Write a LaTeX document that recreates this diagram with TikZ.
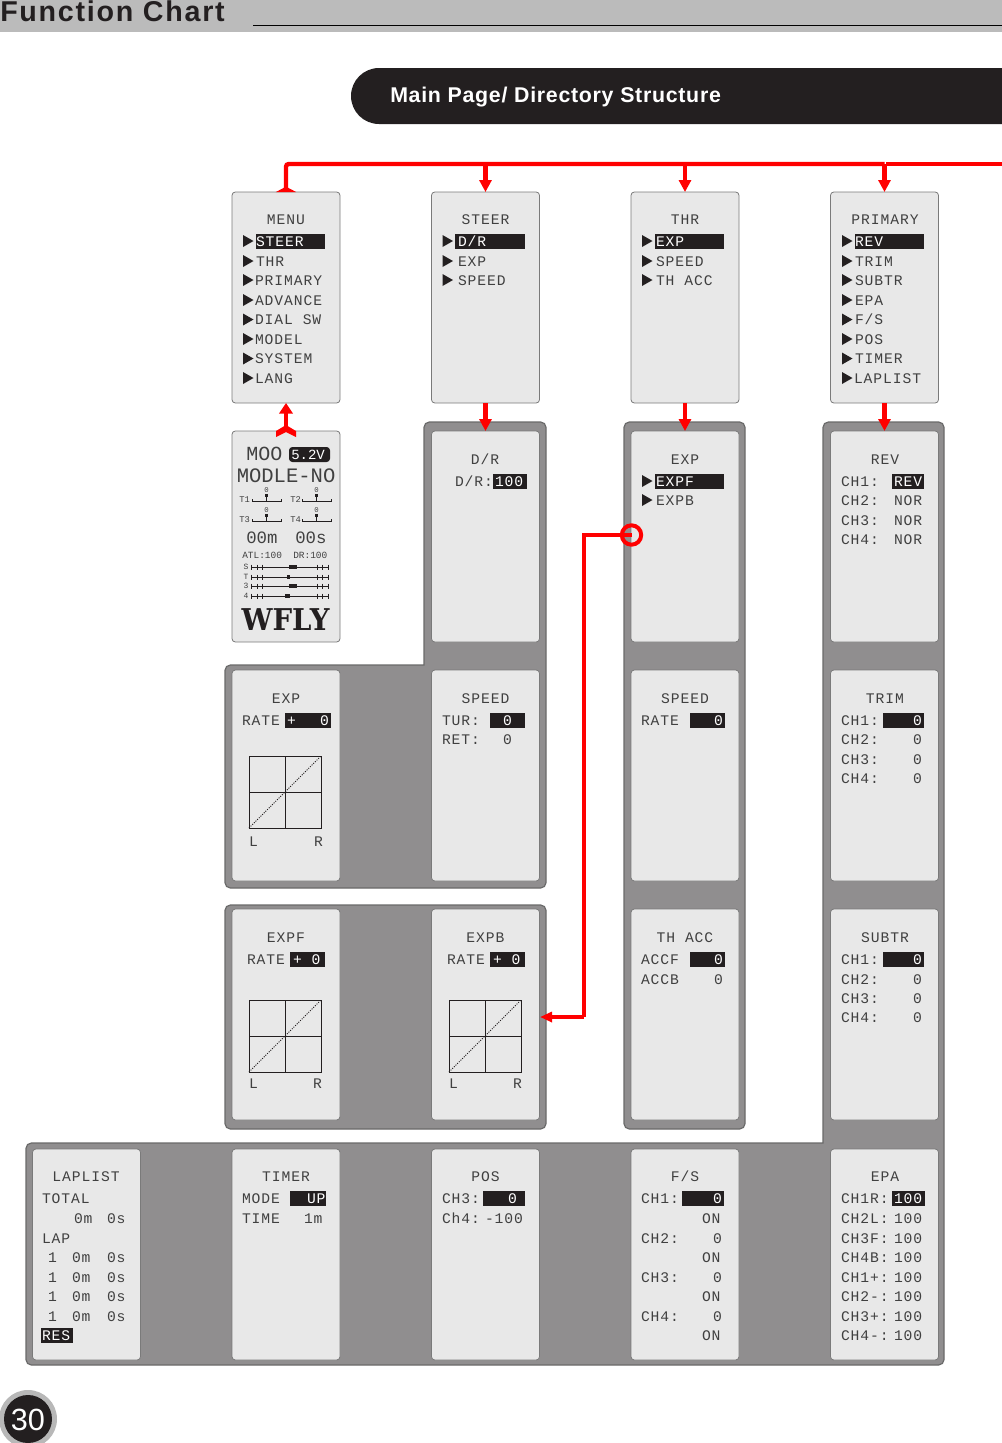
\documentclass[tikz,border=0pt]{standalone}
\usepackage{fontspec}
\usetikzlibrary{arrows.meta}
\setmainfont{Liberation Sans}
\newfontfamily\lcdfont{Liberation Mono}[LetterSpace=6.4]
\newfontfamily\lcdplain{Liberation Mono}
\newfontfamily\logofont{DejaVu Serif}[BoldFont={* Bold}]
\definecolor{grp}{HTML}{908E8F}
\definecolor{grpedge}{HTML}{6A6A6A}
\definecolor{pnl}{HTML}{E8E8E8}
\definecolor{pnledge}{HTML}{7A7A7A}
\definecolor{ink}{HTML}{231F20}
\definecolor{lcdink}{HTML}{404040}
\definecolor{redline}{HTML}{FF0000}
\definecolor{hdrgray}{HTML}{BBBBBB}
\newcount\lcdno
\tikzset{
  x=.75pt,y=-.75pt,
  panel/.style={draw=pnledge,fill=pnl,line width=.6pt,rounded corners=2.5pt,minimum width=81pt,minimum height=158.25pt,inner sep=0pt,outer sep=0pt,anchor=north west},
  group/.style={fill=grp,draw=grpedge,line width=.9pt,rounded corners=4pt},
  txt/.style={font=\lcdfont\fontsize{11}{11}\selectfont,text=lcdink,inner sep=0pt,outer sep=0pt},
  rline/.style={draw=redline,line width=3.3pt},
  rarrow/.style={rline,-{Triangle[width=9pt,length=9pt]}},
  thinline/.style={draw=redline,line width=3pt},
  thinarrow/.style={thinline,-{Triangle[width=7.5pt,length=9pt]}},
  graphline/.style={draw=ink,line width=.75pt},
}
\newcommand{\lcdl}[4][]{\global\advance\lcdno by 1 \node[txt,anchor=base west,#1] (t\the\lcdno) at (#2,#3+5) {#4};}
\newcommand{\lcdc}[3]{\global\advance\lcdno by 1 \node[txt,anchor=base] (t\the\lcdno) at (#1,#2+5) {#3};}
\newcommand{\lcdbar}[3]{\fill[ink] (#1,#3-7.5) rectangle (#2,#3+7.5);}
\newcommand{\lcdw}[3]{\lcdl[text=white]{#1}{#2}{#3}}
\newcommand{\lcdtri}[2]{\fill[ink] (#1,#2-6) -- (#1+10.5,#2) -- (#1,#2+6) -- cycle;}
\newcommand{\graphbox}[2]{%
  \draw[graphline] (#1,#2) rectangle (#1+72,#2+72);
  \draw[graphline] (#1+36,#2) -- (#1+36,#2+72) (#1,#2+36) -- (#1+72,#2+36);
  \draw[graphline,densely dotted] (#1,#2+72) -- (#1+72,#2);
}
\begin{document}
\begin{tikzpicture}
\useasboundingbox (0,0) rectangle (1002,1443);
\fill[white] (0,0) rectangle (1002,1443);
% header
\fill[hdrgray] (0,0) rectangle (1002,32);
\draw[black,line width=.6pt] (253,25.5) -- (1002,25.5);
\node[inner sep=0pt,anchor=base west,text=ink,font=\bfseries\fontsize{21.5}{21.5}\selectfont] (hdr) at (0,21) {\addfontfeature{LetterSpace=6}Function Chart};
% banner
\fill[ink] (1002,68) -- (379,68) arc[start angle=270,end angle=90,radius=28] -- (1002,124) -- cycle;
\node[inner sep=0pt,anchor=base west,text=white,font=\bfseries\fontsize{16}{16}\selectfont] (banner) at (390,102) {\addfontfeature{LetterSpace=3.4}Main Page/ Directory Structure};
% groups
\draw[group] (424,422) -- (546,422) -- (546,888) -- (225,888) -- (225,665) [sharp corners] -- (424,665) [rounded corners=4pt] -- cycle;
\draw[group] (225,905) rectangle (546,1129);
\draw[group] (624,422) rectangle (745,1129);
\draw[group] (823,422) -- (944,422) -- (944,1365) -- (26,1365) -- (26,1143) [sharp corners] -- (823,1143) [rounded corners=4pt] -- cycle;
% panels
\foreach \nm/\px/\py in {menu/232/192,steer/431.5/192,thr/631/192,primary/830.5/192,
  main/232/431,dr/431.5/431,exp/631/431,rev/830.5/431,
  rate/232/670,speedA/431.5/670,speedB/631/670,trim/830.5/670,
  expf/232/909,expb/431.5/909,thacc/631/909,subtr/830.5/909,
  laplist/32.5/1149,timer/232/1149,pos/431.5/1149,fs/631/1149,epa/830.5/1149}
  {\node[panel] (\nm) at (\px,\py) {};}
% MENU
\lcdc{286}{219}{MENU}
\foreach \y in {241,261,280,300,319.5,339,358.5,378} {\lcdtri{243}{\y}}
\lcdbar{256}{325}{241.5}
\lcdw{256}{241}{STEER}\lcdl{256}{261}{THR}\lcdl{255}{280}{PRIMARY}\lcdl{255}{300}{ADVANCE}\lcdl{255}{319.5}{DIAL SW}\lcdl{255}{339}{MODEL}\lcdl{255}{358.5}{SYSTEM}\lcdl{255}{378}{LANG}
% STEER
\lcdc{485.5}{219}{STEER}
\foreach \y in {241,261,280} {\lcdtri{442.5}{\y}}
\lcdbar{455}{525}{241.5}
\lcdw{458}{241}{D/R}\lcdl{458}{261}{EXP}\lcdl{458}{280}{SPEED}
% THR
\lcdc{685}{219}{THR}
\foreach \y in {241,261,280} {\lcdtri{642}{\y}}
\lcdbar{655}{724}{241.5}
\lcdw{656}{241}{EXP}\lcdl{656}{261}{SPEED}\lcdl{656}{280}{TH ACC}
% PRIMARY
\lcdc{885}{219}{PRIMARY}
\foreach \y in {241,261,280,300,319.5,339,358.5,378} {\lcdtri{842}{\y}}
\lcdbar{855}{924}{241.5}
\lcdw{855}{241}{REV}\lcdl{855}{261}{TRIM}\lcdl{855}{280}{SUBTR}\lcdl{855}{300}{EPA}\lcdl{855}{319.5}{F/S}\lcdl{855}{339}{POS}\lcdl{855}{358.5}{TIMER}\lcdl{854}{378}{LAPLIST}
% main screen
\node[inner sep=0pt,anchor=base west,text=lcdink,font=\lcdplain\fontsize{15}{15}\selectfont] (moo) at (246,460) {MOO};
\fill[ink,rounded corners=2.5pt] (289,447) rectangle (330,462);
\node[inner sep=0pt,anchor=base west,text=white,font=\lcdplain\fontsize{10.5}{10.5}\selectfont] (volt) at (291,459) {5.2V};
\node[inner sep=0pt,anchor=base west,text=lcdink,font=\lcdplain\fontsize{15.4}{15.4}\selectfont] (modle) at (236.5,482) {MODLE-NO};
\tikzset{tiny/.style={inner sep=0pt,text=lcdink,font=\lcdplain\fontsize{6.6}{6.6}\selectfont},
  trimb/.style={draw=ink,line width=.7pt}}
\foreach \lab/\lx/\by/\tx in {T1/239/501/252,T2/290/501/302,T3/239/521/252,T4/290/521/302}{
  \node[tiny,anchor=west] (lab\lab) at (\lx,\by-1) {\lab};
  \draw[trimb] (\tx,\by-2) -- (\tx,\by) -- (\tx+29,\by) -- (\tx+29,\by-2);
  \draw[trimb] (\tx+14.5,\by) -- (\tx+14.5,\by-5);
  \fill[ink] (\tx+13,\by-7) rectangle (\tx+16,\by-4);
  \node[tiny,font=\lcdplain\fontsize{5.5}{5.5}\selectfont] (val\lab) at (\tx+14.5,\by-11) {0};
}
\node[inner sep=0pt,anchor=base west,text=lcdink,font=\lcdplain\fontsize{13}{13}\selectfont] (mins) at (246,543) {00m};
\node[inner sep=0pt,anchor=base west,text=lcdink,font=\lcdplain\fontsize{13}{13}\selectfont] (secs) at (295,543) {00s};
\node[inner sep=0pt,anchor=base west,text=lcdink,font=\lcdplain\fontsize{7.1}{7.1}\selectfont] (atl) at (242,558.5) {ATL:100};
\node[inner sep=0pt,anchor=base west,text=lcdink,font=\lcdplain\fontsize{7.1}{7.1}\selectfont] (drv) at (293,558.5) {DR:100};
\foreach \lab/\yy/\ka/\kb in {S/567/289/297,T/577/287/290,3/586/289/297,4/596/285/290}{
  \node[tiny,font=\lcdplain\fontsize{6}{6}\selectfont] (sl\lab) at (246,\yy) {\lab};
  \draw[trimb] (251,\yy) -- (328,\yy);
  \foreach \k in {251,257,262,317,322,328} {\draw[trimb] (\k,\yy-2.5) -- (\k,\yy+2.5);}
  \fill[ink] (\ka,\yy-2) rectangle (\kb,\yy+1.5);
}
\node[inner sep=0pt,anchor=base,text=ink,font=\logofont\bfseries\fontsize{22.5}{22.5}\selectfont,xscale=.92] (wfly) at (285.5,630) {WFLY};
% D/R
\lcdc{485}{459}{D/R}\lcdl{455}{481}{D/R:}\lcdbar{493}{527}{481}\lcdw{495}{481}{100}
% EXP
\lcdc{685}{459}{EXP}\lcdtri{642}{481}\lcdtri{642}{500}\lcdbar{655}{724}{481}\lcdw{656}{481}{EXPF}\lcdl{656}{500}{EXPB}
% REV
\lcdc{885}{459}{REV}\lcdl{841}{481}{CH1:}\lcdbar{892}{924}{481}\lcdw{894}{481}{REV}
\lcdl{841}{500}{CH2:}\lcdl{894}{500}{NOR}\lcdl{841}{520}{CH3:}\lcdl{894}{520}{NOR}\lcdl{841}{539}{CH4:}\lcdl{894}{539}{NOR}
% EXP rate
\lcdc{286}{698}{EXP}\lcdl{242}{720}{RATE}\lcdbar{285}{331}{720}\lcdw{287}{720}{+}\lcdw{320}{720}{0}
\graphbox{249}{756}\lcdl{249}{841}{L}\lcdl{314}{841}{R}
% SPEED 1
\lcdc{485.5}{698}{SPEED}\lcdl{442}{720}{TUR:}\lcdbar{490}{525}{720}\lcdw{503}{720}{0}\lcdl{442}{739}{RET:}\lcdl{503}{739}{0}
% SPEED 2
\lcdc{685}{698}{SPEED}\lcdl{641}{720}{RATE}\lcdbar{690}{725}{720}\lcdw{714}{720}{0}
% TRIM
\lcdc{885}{698}{TRIM}\lcdl{841}{720}{CH1:}\lcdbar{883}{924}{720}\lcdw{913}{720}{0}
\lcdl{841}{739}{CH2:}\lcdl{913}{739}{0}\lcdl{841}{759}{CH3:}\lcdl{913}{759}{0}\lcdl{841}{778}{CH4:}\lcdl{913}{778}{0}
% EXPF
\lcdc{286}{937}{EXPF}\lcdl{247}{959}{RATE}\lcdbar{290}{325}{959}\lcdw{293}{959}{+ 0}
\graphbox{249}{1000}\lcdl{249}{1083}{L}\lcdl{313}{1083}{R}
% EXPB
\lcdc{485.5}{937}{EXPB}\lcdl{447}{959}{RATE}\lcdbar{490}{525}{959}\lcdw{493}{959}{+ 0}
\graphbox{449}{1000}\lcdl{449}{1083}{L}\lcdl{513}{1083}{R}
% TH ACC
\lcdc{685}{937}{TH ACC}\lcdl{641}{959}{ACCF}\lcdbar{690}{725}{959}\lcdw{714}{959}{0}\lcdl{641}{979}{ACCB}\lcdl{714}{979}{0}
% SUBTR
\lcdc{885}{937}{SUBTR}\lcdl{841}{959}{CH1:}\lcdbar{883}{924}{959}\lcdw{913}{959}{0}
\lcdl{841}{979}{CH2:}\lcdl{913}{979}{0}\lcdl{841}{998}{CH3:}\lcdl{913}{998}{0}\lcdl{841}{1017}{CH4:}\lcdl{913}{1017}{0}
% LAPLIST
\lcdc{86}{1176}{LAPLIST}\lcdl{42}{1198}{TOTAL}\lcdl{74}{1218}{0m}\lcdl{107}{1218}{0s}\lcdl{42}{1238}{LAP}
\foreach \y in {1257,1277,1296,1316} {\lcdl{48}{\y}{1}\lcdl{72}{\y}{0m}\lcdl{107}{\y}{0s}}
\lcdbar{41}{73}{1335.5}\lcdw{42}{1335}{RES}
% TIMER
\lcdc{286}{1176}{TIMER}\lcdl{242}{1198}{MODE}\lcdbar{290}{326}{1198}\lcdw{307}{1198}{UP}\lcdl{242}{1218}{TIME}\lcdl{304}{1218}{1m}
% POS
\lcdc{485.5}{1176}{POS}\lcdl{442}{1198}{CH3:}\lcdbar{483}{525}{1198}\lcdw{508}{1198}{0}\lcdl{442}{1218}{Ch4:}\lcdl{485}{1218}{-100}
% F/S
\lcdc{685}{1176}{F/S}\lcdl{641}{1198}{CH1:}\lcdbar{682}{724}{1198}\lcdw{713}{1198}{0}\lcdl{702}{1218}{ON}
\lcdl{641}{1238}{CH2:}\lcdl{713}{1238}{0}\lcdl{702}{1257}{ON}\lcdl{641}{1277}{CH3:}\lcdl{713}{1277}{0}\lcdl{702}{1296}{ON}\lcdl{641}{1316}{CH4:}\lcdl{713}{1316}{0}\lcdl{702}{1335}{ON}
% EPA
\lcdc{885}{1176}{EPA}\lcdl{841}{1198}{CH1R:}\lcdbar{892}{925}{1198}\lcdw{894}{1198}{100}
\foreach \lab/\y in {CH2L:/1218,CH3F:/1238,CH4B:/1257,CH1+:/1277,CH2-:/1296,CH3+:/1316,CH4-:/1335} {\lcdl{841}{\y}{\lab}\lcdl{894}{\y}{100}}
% red connectors
\coordinate (busR) at (primary.north |- 0,164);
\coordinate (busL) at (menu.north |- busR);
\coordinate (busEnd) at (1002,164);
\coordinate (busGap) at (886,164);
\draw[rline,{Triangle[reversed,width=15pt,length=4pt]}-,rounded corners=2pt] (menu.north) -- (busL) -- (busR);
\draw[thinline] (busGap) -- (busEnd);
\draw[rarrow] (steer.north |- busL) -- (steer.north);
\draw[rarrow] (thr.north |- busL) -- (thr.north);
\draw[rarrow] (primary.north |- busL) -- (primary.north);
\fill[redline] (276,437) -- (276,431) -- (286,425) -- (296,431) -- (296,437) -- (286,432) -- cycle;
\draw[rline,-{Triangle[width=10pt,length=8pt]}] (main.north) -- (menu.south);
\draw[rarrow] (steer.south) -- (dr.north);
\draw[rarrow] (thr.south) -- (exp.north);
\draw[rarrow] (primary.south) -- (rev.north);
\coordinate (ringC) at (631.5,535);
\coordinate (elbowT) at (584,535);
\coordinate (elbowB) at (584,1017);
\coordinate (expbR) at (540,1017);
\draw[thinline] (ringC) -- (elbowT) -- (elbowB);
\draw[thinarrow] (elbowB) -- (expbR);
\draw[thinline] (ringC) circle[radius=9.7];
% page number
\fill[black!28] (28,1419) circle[radius=29];
\fill[ink] (28,1419) circle[radius=24];
\node[text=white,inner sep=0pt,font=\fontsize{23}{23}\selectfont] (pg) at (28,1420) {30};
\end{tikzpicture}
\end{document}
